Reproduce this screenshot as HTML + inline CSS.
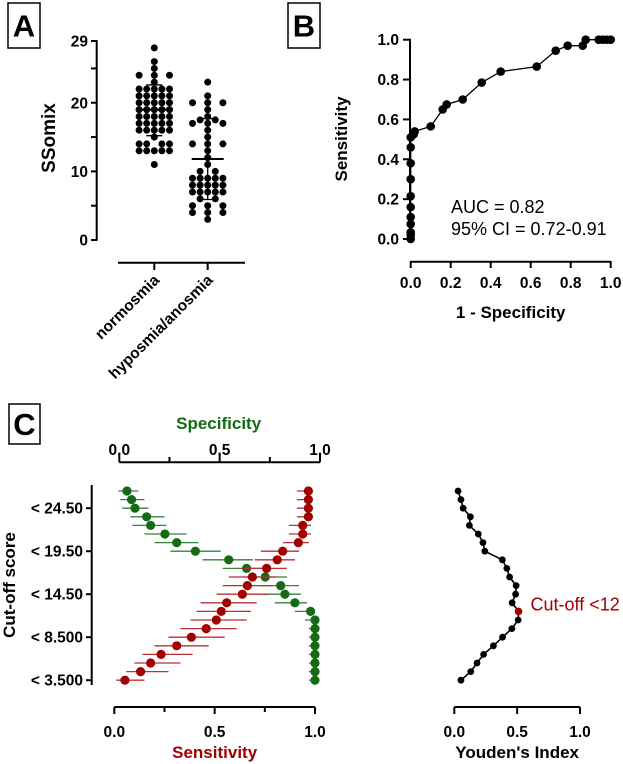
<!DOCTYPE html>
<html><head><meta charset="utf-8"><style>
html,body{margin:0;padding:0;background:#fff;}
svg{display:block;font-family:"Liberation Sans",Arial,sans-serif;}
</style></head><body>
<svg id="fig" width="623" height="764" viewBox="0 0 623 764">
<rect x="0" y="0" width="623" height="764" fill="#fff"/>
<g id="gA"></g>
<g id="gB"></g>
<g id="gC"></g>
</svg>
<script>
// ---- Panel A data ----
const aGroups = ["normosmia","hyposmia/anosmia"];
const aNormVals   = [28,26,25,24,23,22,21,20,19,18,17,16,15,14,13,11];
const aNormCounts = [1,1,1,3,1,5,5,5,5,5,5,5,1,4,5,1];
const aHypoVals   = [23,21,20,19,18,17.5,17,16,15,14,13,12,11,10,9,8,7,6,5,4,3];
const aHypoCounts = [1,1,3,1,1,2,3,1,1,3,1,1,1,2,5,5,5,2,3,3,1];
const aMeans = [19.0, 11.8];
const aSdLo = [15.2, 5.9];
const aSdHi = [22.6, 17.7];
const aTicks = [0,5,10,15,20,25,29];
const aTickLabels = ["0","","10","","20","","29"];
// ---- Panel B data ----
const rocFpr  = [0,0,0,0,0,0,0,0,0,0,0,0.015,0.02,0.1,0.16,0.18,0.26,0.355,0.45,0.63,0.725,0.785,0.86,0.875,0.94,0.96,0.98,1];
const rocSens = [0,0.02,0.033,0.075,0.11,0.16,0.215,0.30,0.38,0.46,0.51,0.525,0.54,0.565,0.65,0.675,0.70,0.785,0.84,0.865,0.945,0.97,0.97,1,1,1,1,1];
const bTicks = [0,0.2,0.4,0.6,0.8,1.0];
const bTickLabels = ["0.0","0.2","0.4","0.6","0.8","1.0"];
// ---- Panel C data ----
const cCutLabels = ["< 24.50","< 19.50","< 14.50","< 8.500","< 3.500"];
const cCutLabelRows = [2,7,12,17,22];
const cSens   = [0.967,0.967,0.967,0.967,0.939,0.939,0.917,0.839,0.812,0.759,0.688,0.663,0.638,0.560,0.533,0.508,0.458,0.384,0.311,0.233,0.181,0.131,0.053];
const cSensLo = [0.91,0.91,0.91,0.91,0.87,0.87,0.84,0.73,0.70,0.64,0.57,0.54,0.51,0.43,0.41,0.38,0.33,0.27,0.20,0.14,0.10,0.06,0.01];
const cSensHi = [0.99,0.99,0.99,0.99,0.98,0.98,0.97,0.92,0.90,0.86,0.81,0.79,0.77,0.71,0.68,0.66,0.61,0.55,0.47,0.39,0.33,0.27,0.15];
const cSpec   = [0.063,0.086,0.103,0.161,0.181,0.252,0.311,0.404,0.570,0.659,0.752,0.829,0.850,0.900,0.978,1,1,1,1,1,1,1,1];
const cSpecLo = [0.02,0.03,0.04,0.08,0.09,0.15,0.20,0.28,0.44,0.54,0.64,0.72,0.74,0.80,0.90,0.95,0.97,0.97,0.97,0.97,0.97,0.97,0.97];
const cSpecHi = [0.12,0.15,0.17,0.25,0.26,0.36,0.42,0.53,0.69,0.77,0.86,0.92,0.93,0.96,0.99,1,1,1,1,1,1,1,1];
const cAxisTicks = [0,0.5,1];
const cAxisLabels = ["0.0","0.5","1.0"];

const NS="http://www.w3.org/2000/svg";
const TK=15.5, TT=17;
function mk(parent,tag,attrs,text){const e=document.createElementNS(NS,tag);for(const k in attrs)e.setAttribute(k,attrs[k]);if(text!==undefined)e.textContent=text;parent.appendChild(e);return e;}
function line(p,x1,y1,x2,y2,st,w){return mk(p,"line",{x1:x1,y1:y1,x2:x2,y2:y2,stroke:st||"#000","stroke-width":w||2});}

function letter(x,y,w,h,t,nm){const g=mk(document.getElementById("fig"),"g",{});


mk(g,"rect",{x:x,y:y,width:w,height:h,fill:"#fff",stroke:"#000","stroke-width":1.5});
mk(g,"text",{x:x+w/2,y:y+h/2+11,"text-anchor":"middle","font-size":31,"font-weight":"bold"},t);}
letter(8,3,32,45,"A","panel-label-a");
letter(288,3,32,45,"B","panel-label-b");
letter(9,404,31,40,"C","panel-label-c");

// ---- Panel A ----
(function(){
const g=document.getElementById("gA");
const y=v=>240-v*(199/29);
const xc=[154.3,207.7];
const ax=mk(g,"g",{});


line(ax,96.7,y(0),96.7,y(29),"#000",2);
aTicks.forEach((t,i)=>{line(ax,91,y(t),97.5,y(t),"#000",2);
 if(aTickLabels[i])mk(ax,"text",{x:88,y:y(t)+5.5,"text-anchor":"end","font-size":TK,"font-weight":"bold"},aTickLabels[i]);});
const yt=mk(g,"text",{x:0,y:0,transform:"translate(55,138) rotate(-90)","text-anchor":"middle","font-size":19,"font-weight":"bold"},"SSomix");


const xa=mk(g,"g",{});


line(xa,118,262.7,245,262.7,"#000",2);
xc.forEach((x,i)=>{line(xa,x,262.7,x,270,"#000",2);
 const t=mk(xa,"text",{x:0,y:0,transform:`translate(${x+6},${281}) rotate(-45)`,"text-anchor":"end","font-size":15.5,"font-weight":"bold"},aGroups[i]);
 
 });
const slots={1:[0],2:[-1,1],3:[-2,0,2],4:[-2,-1,1,2],5:[-2,-1,0,1,2]};
[[aNormVals,aNormCounts],[aHypoVals,aHypoCounts]].forEach((d,gi)=>{
 const gg=mk(g,"g",{});
 
 
 d[0].forEach((v,i)=>{(slots[d[1][i]]||[0]).forEach(s=>{
  const c=mk(gg,"circle",{cx:xc[gi]+s*7.6,cy:y(v),r:3.5,fill:"#000"});
  
  });});
 const sd=mk(g,"g",{});
 
 
 line(sd,xc[gi]-16,y(aMeans[gi]),xc[gi]+16,y(aMeans[gi]),"#000",2);
 line(sd,xc[gi],y(aSdLo[gi]),xc[gi],y(aSdHi[gi]),"#000",1.3);
 line(sd,xc[gi]-8,y(aSdLo[gi]),xc[gi]+8,y(aSdLo[gi]),"#000",1.3);
 line(sd,xc[gi]-8,y(aSdHi[gi]),xc[gi]+8,y(aSdHi[gi]),"#000",1.3);
});
})();

// ---- Panel B ----
(function(){
const g=document.getElementById("gB");
const x=v=>410.7+v*200, y=v=>239-v*199.3;
const ya=mk(g,"g",{});


line(ya,410,y(0),410,y(1),"#000",2);
bTicks.forEach((t,i)=>{line(ya,403,y(t),411,y(t),"#000",2);
 mk(ya,"text",{x:399,y:y(t)+5.5,"text-anchor":"end","font-size":TK,"font-weight":"bold"},bTickLabels[i]);});
const yt=mk(g,"text",{x:0,y:0,transform:"translate(347,139) rotate(-90)","text-anchor":"middle","font-size":TT,"font-weight":"bold"},"Sensitivity");


const xa=mk(g,"g",{});


line(xa,x(0),261.7,x(1),261.7,"#000",2);
bTicks.forEach((t,i)=>{line(xa,x(t),261,x(t),268,"#000",2);
 mk(xa,"text",{x:x(t),y:288,"text-anchor":"middle","font-size":TK,"font-weight":"bold"},bTickLabels[i]);});
const xt=mk(g,"text",{x:x(0.5),y:318,"text-anchor":"middle","font-size":TT,"font-weight":"bold"},"1 - Specificity");


const pts=rocFpr.map((f,i)=>x(f)+","+y(rocSens[i])).join(" ");
const pl=mk(g,"polyline",{points:pts,fill:"none",stroke:"#000","stroke-width":1.3});


rocFpr.forEach((f,i)=>{const c=mk(g,"circle",{cx:x(f),cy:y(rocSens[i]),r:4.3,fill:"#000"});
 
 });
const t1=mk(g,"text",{x:451,y:213,"font-size":18},"AUC = 0.82");


const t2=mk(g,"text",{x:451,y:235,"font-size":18},"95% CI = 0.72-0.91");


})();

// ---- Panel C ----
(function(){
const g=document.getElementById("gC");
const RED="#a00000", GREEN="#156a15", REDL="#b83030", GREENL="#3a803a";
const x=v=>114.3+v*200.7, yr=i=>491+i*8.6;
const xt=v=>119.3+v*200.7;
const ya=mk(g,"g",{});


line(ya,91.7,485,91.7,685,"#000",2);
cCutLabels.forEach((l,i)=>{const yy=yr(cCutLabelRows[i]);line(ya,86,yy,92,yy,"#000",2);
 mk(ya,"text",{x:83,y:yy+5.5,"text-anchor":"end","font-size":TK,"font-weight":"bold"},l);});
const ytl=mk(g,"text",{x:0,y:0,transform:"translate(15,585) rotate(-90)","text-anchor":"middle","font-size":TT,"font-weight":"bold"},"Cut-off score");


const ta=mk(g,"g",{});


line(ta,xt(0),462.3,xt(1),462.3,"#000",2);
[0,0.25,0.5,0.75,1].forEach(t=>line(ta,xt(t),462.3,xt(t),t%0.5===0?455:457,"#000",2));
cAxisTicks.forEach((t,i)=>mk(ta,"text",{x:xt(t),y:455,"text-anchor":"middle","font-size":TK,"font-weight":"bold"},cAxisLabels[i]));
const st=mk(g,"text",{x:xt(0.5)-1,y:429,"text-anchor":"middle","font-size":TT,"font-weight":"bold",fill:GREEN},"Specificity");


const ba=mk(g,"g",{});


line(ba,x(0),707,x(1),707,"#000",2);
[0,0.25,0.5,0.75,1].forEach(t=>line(ba,x(t),707,x(t),t%0.5===0?714:712,"#000",2));
cAxisTicks.forEach((t,i)=>mk(ba,"text",{x:x(t),y:737,"text-anchor":"middle","font-size":TK,"font-weight":"bold"},cAxisLabels[i]));
const sn=mk(g,"text",{x:x(0.5),y:758,"text-anchor":"middle","font-size":TT,"font-weight":"bold",fill:RED},"Sensitivity");


const sg=mk(g,"g",{});


const rg=mk(g,"g",{});


cSpec.forEach((v,i)=>{
 const l=line(sg,x(cSpecLo[i]),yr(i),x(cSpecHi[i]),yr(i),GREENL,1.3);
 
 
 const c=mk(sg,"circle",{cx:x(v),cy:yr(i),r:4.6,fill:GREEN});
 
 });
cSens.forEach((v,i)=>{
 const l=line(rg,x(cSensLo[i]),yr(i),x(cSensHi[i]),yr(i),REDL,1.3);
 
 
 const c=mk(rg,"circle",{cx:x(v),cy:yr(i),r:4.6,fill:RED});
 
 });
const xy=v=>454.3+v*125.7;
const yg=mk(g,"g",{});


line(yg,xy(0),707,xy(1),707,"#000",2);
cAxisTicks.forEach((t,i)=>{line(yg,xy(t),707,xy(t),714,"#000",2);
 mk(yg,"text",{x:xy(t),y:737,"text-anchor":"middle","font-size":TK,"font-weight":"bold"},cAxisLabels[i]);});
const yti=mk(g,"text",{x:xy(0.5),y:758,"text-anchor":"middle","font-size":TT,"font-weight":"bold"},"Youden's Index");


const you=cSens.map((s,i)=>s+cSpec[i]-1);
let best=0;you.forEach((v,i)=>{if(v>you[best])best=i;});
const yl=mk(g,"polyline",{points:you.map((v,i)=>xy(v)+","+yr(i)).join(" "),fill:"none",stroke:"#000","stroke-width":1.6});


you.forEach((v,i)=>{const c=mk(g,"circle",{cx:xy(v),cy:yr(i),r:i===best?3.8:3.4,fill:i===best?RED:"#000"});
 
 });
const co=mk(g,"text",{x:xy(you[best])+12,y:yr(best)-1,"font-size":18,fill:RED},"Cut-off <12");


})();
</script>
</body></html>
